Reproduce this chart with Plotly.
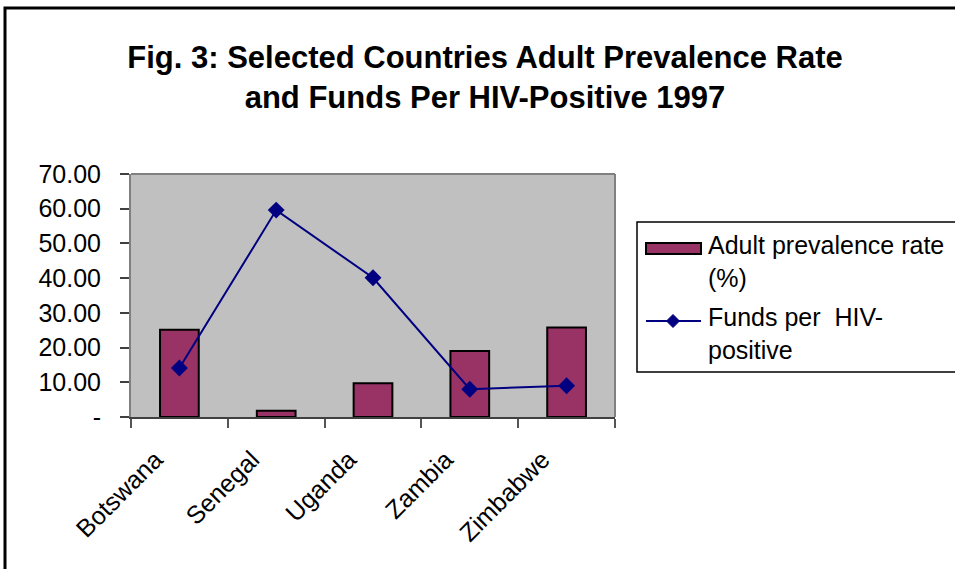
import plotly.graph_objects as go

countries = ["Botswana", "Senegal", "Uganda", "Zambia", "Zimbabwe"]
prevalence = [25.1, 1.8, 9.7, 19.0, 25.8]
funds = [14.1, 59.6, 40.1, 8.0, 9.0]
y_ticks = [0, 10, 20, 30, 40, 50, 60, 70]
y_tick_text = ["-", "10.00", "20.00", "30.00", "40.00", "50.00", "60.00", "70.00"]
series_names = ["Adult prevalence rate<br>(%)", "Funds per  HIV-<br>positive"]

FONT = "Liberation Sans, Arial, sans-serif"
BAR_COLOR = "#993366"
LINE_COLOR = "#000080"

fig = go.Figure()
fig.add_trace(go.Bar(
    x=countries, y=prevalence, name=series_names[0],
    marker=dict(color=BAR_COLOR, line=dict(color="black", width=2)),
    width=0.4, showlegend=False,
))
fig.add_trace(go.Scatter(
    x=countries, y=funds, name=series_names[1],
    mode="lines+markers",
    line=dict(color=LINE_COLOR, width=2),
    marker=dict(symbol="diamond", size=13, color=LINE_COLOR),
    showlegend=False,
))

W, H = 955, 569
L, R, T, B = 131, 340, 174, 152
pw, ph = W - L - R, H - T - B


def px(x, y):
    """Pixel position on the page -> paper coordinates."""
    return (x - L) / pw, (H - B - y) / ph


shapes = []
annotations = []

# plot-area border (right and top edges)
shapes.append(dict(type="line", xref="paper", yref="paper", x0=1, x1=1, y0=0, y1=1,
                   line=dict(color="#808080", width=2)))
shapes.append(dict(type="line", xref="paper", yref="paper", x0=0, x1=1, y0=1, y1=1,
                   line=dict(color="#808080", width=2)))

# outer chart frame
fx0, fy1 = px(5, 8)
fx1, fy0 = px(W + 20, H + 20)
shapes.append(dict(type="rect", xref="paper", yref="paper", x0=fx0, x1=fx1, y0=fy0, y1=fy1,
                   line=dict(color="black", width=3), layer="above"))

# legend box
lx0, ly1 = px(637, 222)
lx1, ly0 = px(W + 20, 372)
shapes.append(dict(type="rect", xref="paper", yref="paper", x0=lx0, x1=lx1, y0=ly0, y1=ly1,
                   line=dict(color="black", width=1.5), fillcolor="white"))

# legend swatch: bar
sx0, sy1 = px(646, 243)
sx1, sy0 = px(701, 254)
shapes.append(dict(type="rect", xref="paper", yref="paper", x0=sx0, x1=sx1, y0=sy0, y1=sy1,
                   line=dict(color="black", width=2), fillcolor=BAR_COLOR))

# legend swatch: line with diamond
ax0, ay = px(646, 321)
ax1, _ = px(701, 321)
shapes.append(dict(type="line", xref="paper", yref="paper", x0=ax0, x1=ax1, y0=ay, y1=ay,
                   line=dict(color=LINE_COLOR, width=2)))
cx, cy, r = 673, 321, 6.5
pts = [px(cx, cy - r), px(cx + r, cy), px(cx, cy + r), px(cx - r, cy)]
path = "M " + " L ".join(f"{a},{b}" for a, b in pts) + " Z"
shapes.append(dict(type="path", xref="paper", yref="paper", path=path,
                   line=dict(color=LINE_COLOR, width=1), fillcolor=LINE_COLOR))

for name, yc in zip(series_names, [261, 333]):
    tx, ty = px(706, yc)
    annotations.append(dict(xref="paper", yref="paper", x=tx, y=ty, text=name,
                            showarrow=False, xanchor="left", yanchor="middle", align="left",
                            font=dict(family=FONT, size=25, color="black")))

fig.update_layout(
    width=W, height=H,
    margin=dict(l=L, r=R, t=T, b=B),
    paper_bgcolor="white",
    plot_bgcolor="#C0C0C0",
    font=dict(family=FONT, color="black", size=25),
    title=dict(
        text="<b>Fig. 3: Selected Countries Adult Prevalence Rate<br>and Funds Per HIV-Positive 1997</b>",
        x=485 / W, xanchor="center",
        y=1 - 68 / H, yanchor="middle",
        font=dict(family=FONT, size=31, color="black"),
    ),
    showlegend=False,
    xaxis=dict(
        type="category", tickson="boundaries",
        ticks="outside", ticklen=9, tickcolor="#555", tickwidth=1.5,
        tickangle=-45, tickfont=dict(size=25),
        ticklabelshift=-24, ticklabelstandoff=16,
        showline=True, linecolor="#404040", linewidth=2,
        showgrid=False, mirror=False,
    ),
    yaxis=dict(
        range=[0, 70], tickvals=y_ticks, ticktext=y_tick_text,
        ticks="outside", ticklen=9, tickcolor="#404040", tickwidth=1.5,
        tickfont=dict(size=25), ticklabelstandoff=14,
        showline=True, linecolor="#808080", linewidth=2,
        showgrid=False, zeroline=False,
    ),
    shapes=shapes,
    annotations=annotations,
)

fig.write_html("out.html")
